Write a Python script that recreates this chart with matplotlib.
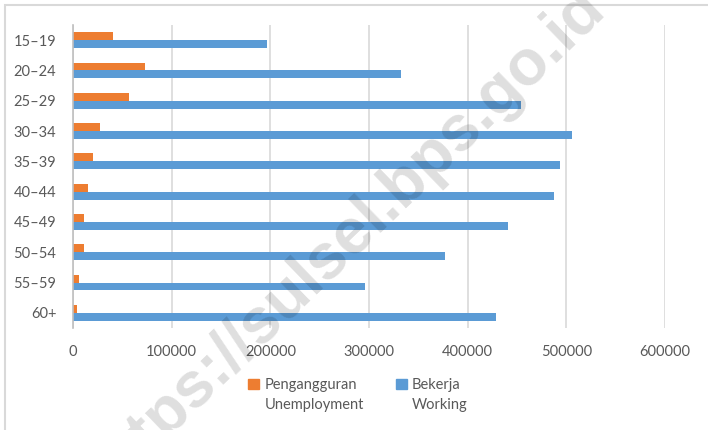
import numpy as np
import matplotlib.pyplot as plt
from matplotlib.patches import Rectangle

age_groups = ["15–19", "20–24", "25–29", "30–34", "35–39",
              "40–44", "45–49", "50–54", "55–59", "60+"]
unemployment = [40800, 72900, 56700, 27400, 19900,
                15500, 10900, 11600, 6100, 4000]
working = [196600, 332000, 453600, 505900, 493700,
           487300, 440600, 376700, 295500, 428700]
x_ticks = [0, 100000, 200000, 300000, 400000, 500000, 600000]

ORANGE = "#ED7D31"
BLUE = "#5B9BD5"
GREY = "#595959"

plt.rcParams["font.family"] = ["Lato", "DejaVu Sans"]

fig = plt.figure(figsize=(7.08, 4.3), dpi=100)
ax = fig.add_axes([73 / 708, 1 - 328 / 430, (665 - 73) / 708, (328 - 25) / 430])

y = np.arange(len(age_groups))
h = 0.26
ax.barh(y - h / 2, unemployment, height=h, color=ORANGE, label="Pengangguran")
ax.barh(y + h / 2, working, height=h, color=BLUE, label="Bekerja")

ax.set_ylim(len(age_groups) - 0.5, -0.5)
ax.set_xlim(0, 600000)
ax.set_yticks(y)
ax.set_yticklabels(age_groups)
ax.set_xticks(x_ticks)
ax.set_xticklabels([str(v) for v in x_ticks])
ax.tick_params(length=0, labelsize=10.5, labelcolor=GREY)
ax.tick_params(axis="y", pad=12)
ax.tick_params(axis="x", pad=12)
ax.grid(axis="x", color="#d9d9d9", linewidth=1.2)
ax.set_axisbelow(True)
for s in ["top", "right", "bottom"]:
    ax.spines[s].set_visible(False)
ax.spines["left"].set_color("#bfbfbf")
ax.spines["left"].set_linewidth(1.2)

# legend: handle on the first line only, second line under it
blank = Rectangle((0, 0), 1, 1, visible=False)
handles = [Rectangle((0, 0), 1, 1, color=ORANGE), blank,
           Rectangle((0, 0), 1, 1, color=BLUE), blank]
labels = ["Pengangguran", "Unemployment", "Bekerja", "Working"]
fig.legend(handles, labels, ncol=2, loc="center", bbox_to_anchor=(358 / 708, 1 - 395 / 430),
           frameon=False, fontsize=10.5, labelcolor=GREY, handlelength=0.75, handleheight=0.75,
           handletextpad=0.35, columnspacing=2.2, labelspacing=0.4, borderpad=0)

# chart border
fig.add_artist(Rectangle((4.5 / 708, -0.1), 1.2, 1 - 4.5 / 430 + 0.1, transform=fig.transFigure,
                         fill=False, edgecolor="#d9d9d9", linewidth=1.5))

# watermark
fig.text(345 / 708, 1 - 240 / 430, "https://sulsel.bps.go.id", rotation=44,
         ha="center", va="center", fontsize=46, fontweight="bold",
         family="Liberation Sans", color="black", alpha=0.13)

fig.savefig("out.png", dpi=100)
